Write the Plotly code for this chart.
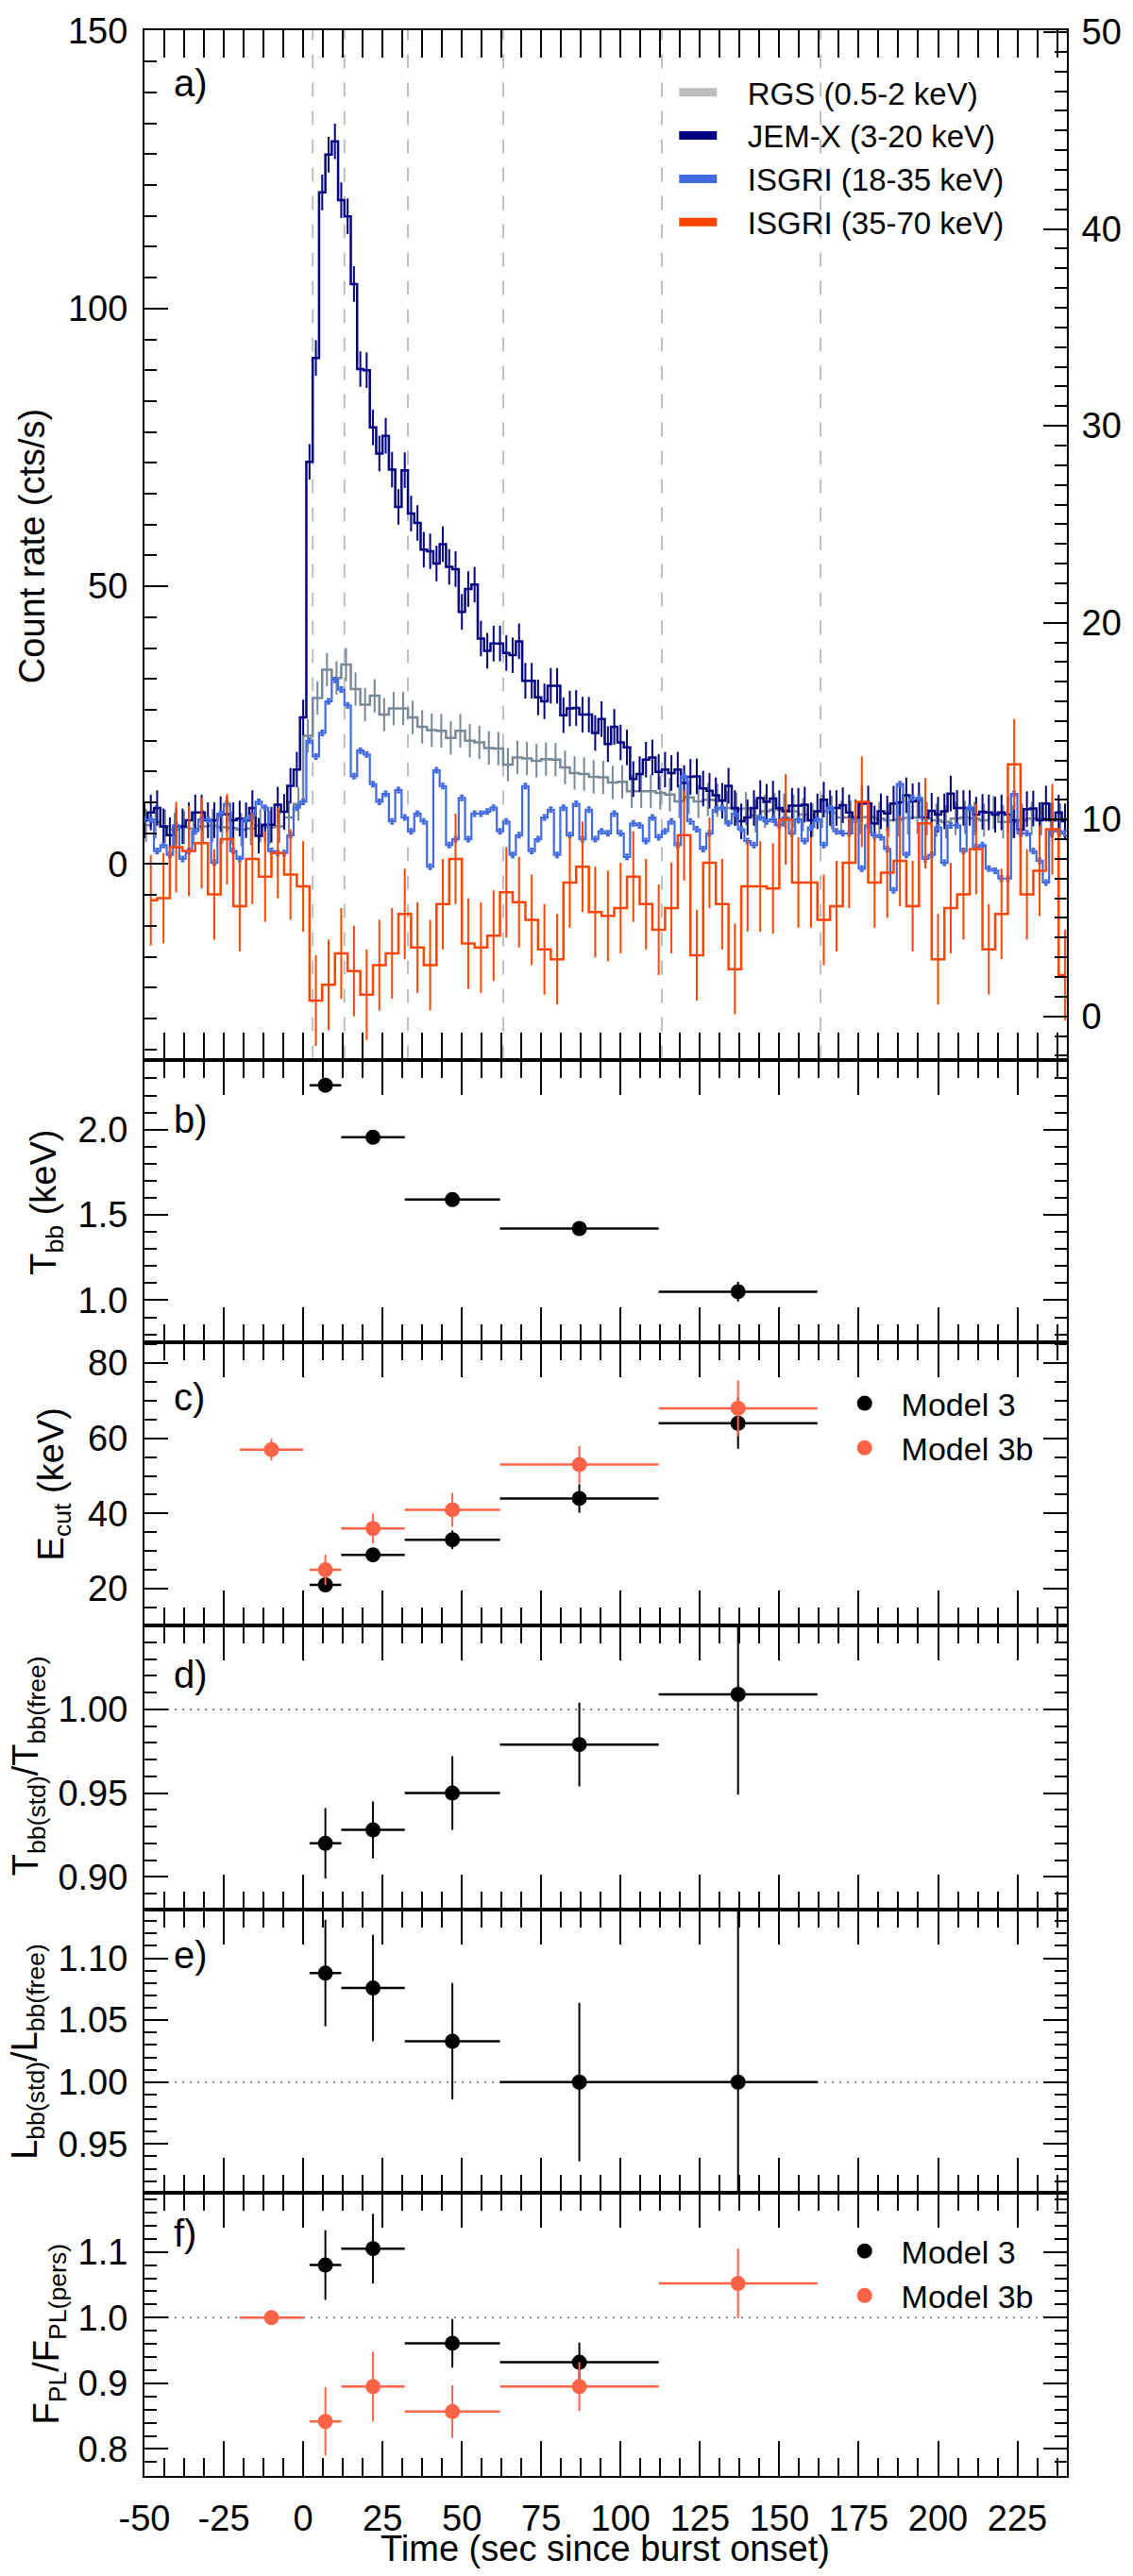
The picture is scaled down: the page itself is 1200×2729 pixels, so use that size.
import plotly.graph_objects as go

# ------------------------------------------------------------------ data
# Panel a: light curves (regular time bins; first bin centre and bin width in s)
JEMX_T0, JEMX_DT = -50, 2
JEMX_RATE = [
    7.9, 9.3, 10.1, 6.8, 5.2, 6.8, 6.8, 7.9, 9.3, 9.3, 7.9, 7.9, 9.0, 9.0, 7.9, 8.2,
    7.9, 10.1, 5.1, 7.1, 7.1, 10.7, 9.4, 14.1, 17.0, 26.4,
    72.4, 91.1, 120.9, 127.7, 130.1, 119.5, 116.6, 104.4, 89.1, 88.9, 78.6, 73.9,
    77.1, 71.0, 64.3, 70.9, 63.1, 61.4, 56.6, 56.3, 54.1, 57.6, 53.5, 53.1,
    45.4, 49.5, 50.3, 40.6, 38.4, 39.7, 39.7, 38.0, 37.6, 40.1, 33.0, 33.0,
    30.0, 29.3, 32.1, 32.1, 26.8, 28.0, 28.1, 26.9, 26.9, 23.6, 26.1, 21.6,
    24.7, 21.9, 21.0, 15.3, 16.2, 18.8, 19.2, 16.6, 17.0, 16.4,
    17.0, 14.6, 15.7, 15.8, 13.6, 13.2, 12.4, 11.4, 14.1, 10.1,
    7.7, 8.4, 10.1, 11.9, 11.2, 11.8, 10.1, 9.5, 10.5, 10.5,
    10.7, 7.9, 9.5, 11.6, 10.1, 10.1, 10.6, 9.3, 8.4, 10.9,
    10.9, 7.3, 9.5, 9.1, 10.9, 11.1, 12.4, 11.3, 11.5, 8.4,
    9.6, 8.9, 9.5, 12.7, 10.1, 10.1, 10.1, 8.9, 9.4, 9.3,
    8.9, 9.3, 8.9, 7.9, 6.2, 9.9, 10.0, 7.9, 10.9, 7.9,
    9.3, 7.7,
]
JEMX_ERR = 3.2

RGS_T0, RGS_DT = -49.5, 3
RGS_RATE = [
    7.0, 7.6, 6.8, 6.2, 6.6, 6.4, 6.8, 6.9, 6.6, 6.5, 6.2, 6.4, 6.9, 6.6, 6.8, 8.4, 10.8,
    23.1, 29.9, 35.0, 33.5, 35.9, 31.5, 28.7, 30.3, 26.9, 28.0, 28.0, 26.4, 24.7, 24.1,
    24.0, 22.7, 24.0, 22.2, 21.9, 20.9, 20.8, 17.9, 19.2, 19.0, 18.6, 18.9, 18.8, 17.4,
    16.4, 16.2, 15.7, 15.6,
    14.7, 14.8, 13.1, 13.1, 13.1, 12.8, 12.5, 11.3, 12.0, 11.3, 11.6, 11.5, 10.1, 9.9,
    10.0, 8.7, 9.5, 9.8, 9.7, 9.5, 8.9, 7.9, 9.5, 9.3, 8.4, 8.4, 8.4, 8.5, 8.2, 7.9,
    8.0, 8.3, 8.4, 8.2, 7.9, 7.6, 8.2, 8.4, 8.2, 7.9, 9.3, 7.6, 7.6, 7.9, 8.2, 8.2,
    7.9, 7.9, 7.9,
]
RGS_ERR = 3.0

# ISGRI rates are read on the right-hand axis
ISGRI_LO_T0, ISGRI_LO_DT = -50, 2
ISGRI_LO_RATE = [
    10.0, 10.0, 8.4, 8.7, 8.2, 9.7, 8.0, 8.4, 9.4, 10.0, 10.0, 7.8, 10.3, 10.8, 8.4, 8.0,
    10.0, 10.2, 10.9, 10.6, 8.4, 8.3, 8.3, 9.2, 10.6, 10.9,
    14.0, 13.2, 14.4, 16.0, 17.1, 16.6, 15.8, 12.2, 13.5, 13.3, 11.8, 10.9, 11.3, 9.9,
    11.5, 10.1, 9.4, 10.3, 9.9, 7.6, 12.5, 11.7, 8.7, 9.0, 11.1, 9.0, 10.3, 10.3, 10.4,
    10.6, 9.4, 9.9, 8.2, 9.2, 11.7, 8.4, 9.0, 10.1, 10.5, 8.2, 10.6, 9.2, 10.8, 9.0,
    10.5, 9.0, 9.4, 9.3,
    10.3, 9.3, 8.1, 9.8, 9.7, 8.9, 10.1, 9.1, 9.4, 9.9, 8.7, 12.2, 9.9, 9.5, 8.5, 9.3,
    10.5, 10.6, 9.8, 10.3, 9.5, 8.9, 8.7, 10.1, 9.9, 10.0, 9.7, 10.1, 9.3, 10.0, 8.9,
    9.6, 10.0, 8.7, 10.6, 9.4, 9.3, 9.3, 10.0, 7.5, 9.7, 9.2, 9.1, 8.5, 6.4, 11.8, 8.2,
    11.1, 11.1, 8.0, 8.2, 9.6, 7.8, 9.7, 9.7, 8.4, 10.6, 8.6, 8.7, 7.5, 7.4, 7.0, 7.0,
    11.3, 9.3, 9.3, 8.4, 7.9, 6.8, 9.4, 9.4, 9.3,
]
ISGRI_LO_ERR = 0.12

ISGRI_HI_T0, ISGRI_HI_DT = -48, 4
ISGRI_HI_RATE = [
    5.9, 6.0, 8.6, 8.4, 8.8, 6.2, 9.0, 5.6, 8.0, 7.1, 8.3, 7.2, 6.6,
    0.8, 1.6, 3.2, 2.3, 1.1, 2.6, 3.2, 5.2, 3.5, 2.6, 5.7, 8.0, 3.7, 3.5, 4.1, 6.3,
    5.8, 4.9, 3.4, 2.9, 6.8, 7.6, 5.3, 5.1,
    5.5, 7.1, 5.7, 4.4, 5.5, 9.2, 3.1, 7.8, 5.7, 2.4, 6.6, 6.6, 6.5, 10.0, 6.8, 6.8,
    4.9, 5.6, 7.8, 10.9, 6.8, 7.3, 7.9, 5.6, 9.8, 2.9, 5.5, 6.2, 8.5, 3.4, 5.2, 12.8,
    6.2, 7.4, 9.5, 2.1,
]
ISGRI_HI_ERR = 2.3

SPECTRAL_EDGES = [3, 13, 33, 63, 113, 163]          # dashed lines in panel a

LC_NAMES = ["RGS (0.5-2 keV)", "JEM-X (3-20 keV)", "ISGRI (18-35 keV)", "ISGRI (35-70 keV)"]

# Panels b-f: time-resolved spectral fits
BIN_MID = [7, 22, 47, 87, 137]
BIN_HALF = [5, 10, 15, 25, 25]
BIN3B_MID = [-10, 7, 22, 47, 87, 137]
BIN3B_HALF = [10, 5, 10, 15, 25, 25]

TBB = [2.26, 1.955, 1.59, 1.42, 1.05]
TBB_ERR = [0.02, 0.02, 0.02, 0.02, 0.057]

ECUT_M3 = [21, 29, 33, 44, 64]
ECUT_M3_ERR = [1.0, 1.5, 2.5, 3.8, 6.8]
ECUT_M3B = [57, 25, 36, 41, 53, 68]
ECUT_M3B_ERR = [2.9, 4.0, 4.0, 4.5, 5.0, 7.4]

TRATIO = [0.920, 0.928, 0.950, 0.979, 1.009]
TRATIO_ERR = [0.021, 0.017, 0.022, 0.025, 0.060]

LRATIO = [1.088, 1.076, 1.033, 1.000, 1.000]
LRATIO_ERR = [0.043, 0.043, 0.047, 0.064, 0.150]

FPL_M3_MID = [7, 22, 47, 87]
FPL_M3_HALF = [5, 10, 15, 25]
FPL_M3 = [1.080, 1.105, 0.961, 0.932]
FPL_M3_ERR = [0.053, 0.053, 0.037, 0.030]
FPL_M3B = [1.000, 0.842, 0.895, 0.857, 0.895, 1.052]
FPL_M3B_ERR = [0.006, 0.052, 0.053, 0.040, 0.037, 0.053]

MODEL_NAMES = ["Model 3", "Model 3b"]
REF_LEVEL = 1.0

# ticks
X_TICKS = [-50, -25, 0, 25, 50, 75, 100, 125, 150, 175, 200, 225]
X_TICK_TEXT = ["-50", "-25", "0", "25", "50", "75", "100", "125", "150", "175", "200", "225"]
YA_TICKS = [0, 50, 100, 150]
YA_RIGHT_TICKS = [0, 10, 20, 30, 40, 50]
YB_TICKS, YB_TEXT = [1.0, 1.5, 2.0], ["1.0", "1.5", "2.0"]
YC_TICKS = [20, 40, 60, 80]
YD_TICKS, YD_TEXT = [0.90, 0.95, 1.00], ["0.90", "0.95", "1.00"]
YE_TICKS, YE_TEXT = [0.95, 1.00, 1.05, 1.10], ["0.95", "1.00", "1.05", "1.10"]
YF_TICKS, YF_TEXT = [0.8, 0.9, 1.0, 1.1], ["0.8", "0.9", "1.0", "1.1"]

PANEL_LABELS = ["a)", "b)", "c)", "d)", "e)", "f)"]
Y_TITLES = [
    "Count rate (cts/s)",
    "T<sub>bb</sub> (keV)",
    "E<sub>cut</sub> (keV)",
    "T<sub>bb(std)</sub>/T<sub>bb(free)</sub>",
    "L<sub>bb(std)</sub>/L<sub>bb(free)</sub>",
    "F<sub>PL</sub>/F<sub>PL(pers)</sub>",
]
X_TITLE = "Time (sec since burst onset)"

# ------------------------------------------------------------------ style / layout
FONT = "Liberation Sans, Arial, Helvetica, sans-serif"
W, H = 1200, 2729
ML, MR, MT, MB = 153, 67, 12, 106
EDGES_PX = [12, 1111, 1413, 1715, 2018, 2321, 2623]
XR = [-50, 240.6]

C_RGS, C_RGS_LEG = "#778899", "#BEBEBE"
C_JEMX = "#000080"
C_ISLO = "#4169E1"
C_ISHI = "#FF4500"
C_M3, C_M3B = "black", "#FF6347"
C_DASH = "#BEBEBE"
C_DOT = "#6F8094"


def px_x(px):
    return (px - ML) / (W - ML - MR)


def px_y(py):
    return (H - MB - py) / (H - MT - MB)


def dom(i):
    return [px_y(EDGES_PX[i + 1]), px_y(EDGES_PX[i])]


fig = go.Figure()

# ---------------- panel a
lc_common = dict(mode="lines", showlegend=False, xaxis="x")
fig.add_trace(go.Scatter(x0=RGS_T0, dx=RGS_DT, y=RGS_RATE, yaxis="y",
                         line=dict(shape="hvh", color=C_RGS, width=2.5),
                         error_y=dict(type="constant", value=RGS_ERR, color=C_RGS, thickness=2, width=0),
                         **lc_common))
fig.add_trace(go.Scatter(x0=JEMX_T0, dx=JEMX_DT, y=JEMX_RATE, yaxis="y",
                         line=dict(shape="hvh", color=C_JEMX, width=2.5),
                         error_y=dict(type="constant", value=JEMX_ERR, color=C_JEMX, thickness=2, width=0),
                         **lc_common))
fig.add_trace(go.Scatter(x0=ISGRI_LO_T0, dx=ISGRI_LO_DT, y=ISGRI_LO_RATE, yaxis="y7",
                         line=dict(shape="hvh", color=C_ISLO, width=2.2),
                         error_y=dict(type="constant", value=ISGRI_LO_ERR, color=C_ISLO, thickness=2, width=2),
                         **lc_common))
fig.add_trace(go.Scatter(x0=ISGRI_HI_T0, dx=ISGRI_HI_DT, y=ISGRI_HI_RATE, yaxis="y7",
                         line=dict(shape="hvh", color=C_ISHI, width=2.5),
                         error_y=dict(type="constant", value=ISGRI_HI_ERR, color=C_ISHI, thickness=2, width=0),
                         **lc_common))

# legend swatches for panel a
pad = "\u00a0\u00a0\u00a0"
for name, col in zip(LC_NAMES, [C_RGS_LEG, C_JEMX, C_ISLO, C_ISHI]):
    fig.add_trace(go.Scatter(x=[None], y=[None], mode="lines", name=pad + name,
                             line=dict(color=col, width=9), xaxis="x", yaxis="y",
                             legend="legend"))


def pts(xv, xe, yv, ye, col, ax, ay, name=None, leg=None):
    return go.Scatter(
        x=xv, y=yv, mode="markers", xaxis=ax, yaxis=ay,
        marker=dict(size=16, color=col),
        error_x=dict(type="data", array=xe, color=col, thickness=2.5, width=0),
        error_y=dict(type="data", array=ye, color=col, thickness=2, width=0),
        name=name, showlegend=leg is not None, legend=leg if leg else "legend",
    )


# ---------------- panel b
fig.add_trace(pts(BIN_MID, BIN_HALF, TBB, TBB_ERR, C_M3, "x2", "y2"))
# ---------------- panel c
fig.add_trace(pts(BIN_MID, BIN_HALF, ECUT_M3, ECUT_M3_ERR, C_M3, "x3", "y3",
                  "\u00a0\u00a0" + MODEL_NAMES[0], "legend2"))
fig.add_trace(pts(BIN3B_MID, BIN3B_HALF, ECUT_M3B, ECUT_M3B_ERR, C_M3B, "x3", "y3",
                  "\u00a0\u00a0" + MODEL_NAMES[1], "legend2"))
# ---------------- panel d
fig.add_trace(pts(BIN_MID, BIN_HALF, TRATIO, TRATIO_ERR, C_M3, "x4", "y4"))
# ---------------- panel e
fig.add_trace(pts(BIN_MID, BIN_HALF, LRATIO, LRATIO_ERR, C_M3, "x5", "y5"))
# ---------------- panel f
fig.add_trace(pts(FPL_M3_MID, FPL_M3_HALF, FPL_M3, FPL_M3_ERR, C_M3, "x6", "y6",
                  "\u00a0\u00a0" + MODEL_NAMES[0], "legend3"))
fig.add_trace(pts(BIN3B_MID, BIN3B_HALF, FPL_M3B, FPL_M3B_ERR, C_M3B, "x6", "y6",
                  "\u00a0\u00a0" + MODEL_NAMES[1], "legend3"))

# ------------------------------------------------------------------ axes
tickfont = dict(family=FONT, size=38, color="black")


def xaxis(i, major_len, minor_len, labels):
    return dict(
        domain=[0, 1], anchor="y" if i == 1 else f"y{i}", range=XR,
        tickmode="array", tickvals=X_TICKS, ticktext=X_TICK_TEXT,
        showticklabels=labels, tickfont=tickfont, ticklabelstandoff=10,
        ticks="inside", ticklen=major_len, tickwidth=2, tickcolor="black",
        minor=dict(ticks="inside", ticklen=minor_len, tickwidth=2, tickcolor="black",
                   tick0=-50, dtick=6.25, showgrid=False),
        showline=True, linecolor="black", linewidth=2, mirror="allticks",
        showgrid=False, zeroline=False,
        matches=None if i == 1 else "x",
    )


def yaxis(i, rng, tv, tt, mdt, mirror="allticks"):
    d = dict(
        domain=dom(i - 1), anchor="x" if i == 1 else f"x{i}", range=rng,
        tickmode="array", tickvals=tv, tickfont=tickfont, ticklabelstandoff=8,
        ticklabeloverflow="allow",
        ticks="inside", ticklen=25, tickwidth=2, tickcolor="black",
        minor=dict(ticks="inside", ticklen=13, tickwidth=2, tickcolor="black",
                   tick0=0, dtick=mdt, showgrid=False),
        showline=True, linecolor="black", linewidth=2, mirror=mirror,
        showgrid=False, zeroline=False,
    )
    if tt is not None:
        d["ticktext"] = tt
    return d


layout = dict(
    width=W, height=H, margin=dict(l=ML, r=MR, t=MT, b=MB),
    paper_bgcolor="white", plot_bgcolor="white",
    font=dict(family=FONT, size=34, color="black"),
)
layout["xaxis"] = xaxis(1, 29, 15, False)
for i in range(2, 7):
    layout[f"xaxis{i}"] = xaxis(i, 37, 19, i == 6)

layout["yaxis"] = yaxis(1, [-35.2, 150.1], YA_TICKS, None, 50 / 9, mirror=False)
layout["yaxis2"] = yaxis(2, [0.752, 2.41], YB_TICKS, YB_TEXT, 0.1)
layout["yaxis3"] = yaxis(3, [10.2, 85.5], YC_TICKS, None, 5)
layout["yaxis4"] = yaxis(4, [0.8806, 1.0502], YD_TICKS, YD_TEXT, 0.01)
layout["yaxis5"] = yaxis(5, [0.9104, 1.1396], YE_TICKS, YE_TEXT, 0.01)
layout["yaxis6"] = yaxis(6, [0.759, 1.1896], YF_TICKS, YF_TEXT, 0.02)
y7 = yaxis(1, [-2.2, 50.1], YA_RIGHT_TICKS, None, 1, mirror=False)
y7.update(overlaying="y", side="right", ticklabelstandoff=6)
layout["yaxis7"] = y7

# legends
leg_common = dict(bgcolor="rgba(0,0,0,0)", borderwidth=0, xanchor="left", yanchor="top",
                  tracegroupgap=0, itemclick=False, itemdoubleclick=False)
layout["legend"] = dict(x=px_x(716), y=px_y(50), font=dict(family=FONT, size=33),
                        itemwidth=40, **leg_common)
layout["legend2"] = dict(x=px_x(898), y=px_y(1449), font=dict(family=FONT, size=34),
                         **leg_common)
layout["legend3"] = dict(x=px_x(898), y=px_y(2354), font=dict(family=FONT, size=34),
                         **leg_common)

# shapes
shapes = []
for t in SPECTRAL_EDGES:
    shapes.append(dict(type="line", xref="x", yref="y domain", x0=t, x1=t, y0=0, y1=1,
                       line=dict(color=C_DASH, width=2, dash="15px,15px"), layer="below"))
for i in (4, 5, 6):
    shapes.append(dict(type="line", xref=f"x{i} domain", yref=f"y{i}", x0=0, x1=1,
                       y0=REF_LEVEL, y1=REF_LEVEL,
                       line=dict(color=C_DOT, width=2, dash="2px,6px"), layer="below"))
layout["shapes"] = shapes

# annotations
ann = []
LABEL_PX = [(182, 68), (182, 1175), (182, 1471), (182, 1767), (182, 2067), (182, 2364)]
for lab, (px, py) in zip(PANEL_LABELS, LABEL_PX):
    ann.append(dict(text=lab, x=px_x(px), y=px_y(py), xref="paper", yref="paper",
                    xanchor="left", yanchor="middle", showarrow=False,
                    font=dict(family=FONT, size=40, color="black")))
TITLE_PX = [(33, 563), (49, 1263), (57, 1564), (29, 1865), (29, 2170), (52, 2471)]
for tt, (px, py) in zip(Y_TITLES, TITLE_PX):
    ann.append(dict(text=tt, x=px_x(px), y=px_y(py), xref="paper", yref="paper",
                    xanchor="center", yanchor="middle", textangle=-90, showarrow=False,
                    font=dict(family=FONT, size=38, color="black")))
ann.append(dict(text=X_TITLE, x=px_x(642), y=px_y(2701), xref="paper", yref="paper",
                xanchor="center", yanchor="middle", showarrow=False,
                font=dict(family=FONT, size=38, color="black")))
layout["annotations"] = ann

fig.update_layout(**layout)
fig.write_html("out.html", config={"displayModeBar": False},
               post_script="document.body.style.margin='0';")
